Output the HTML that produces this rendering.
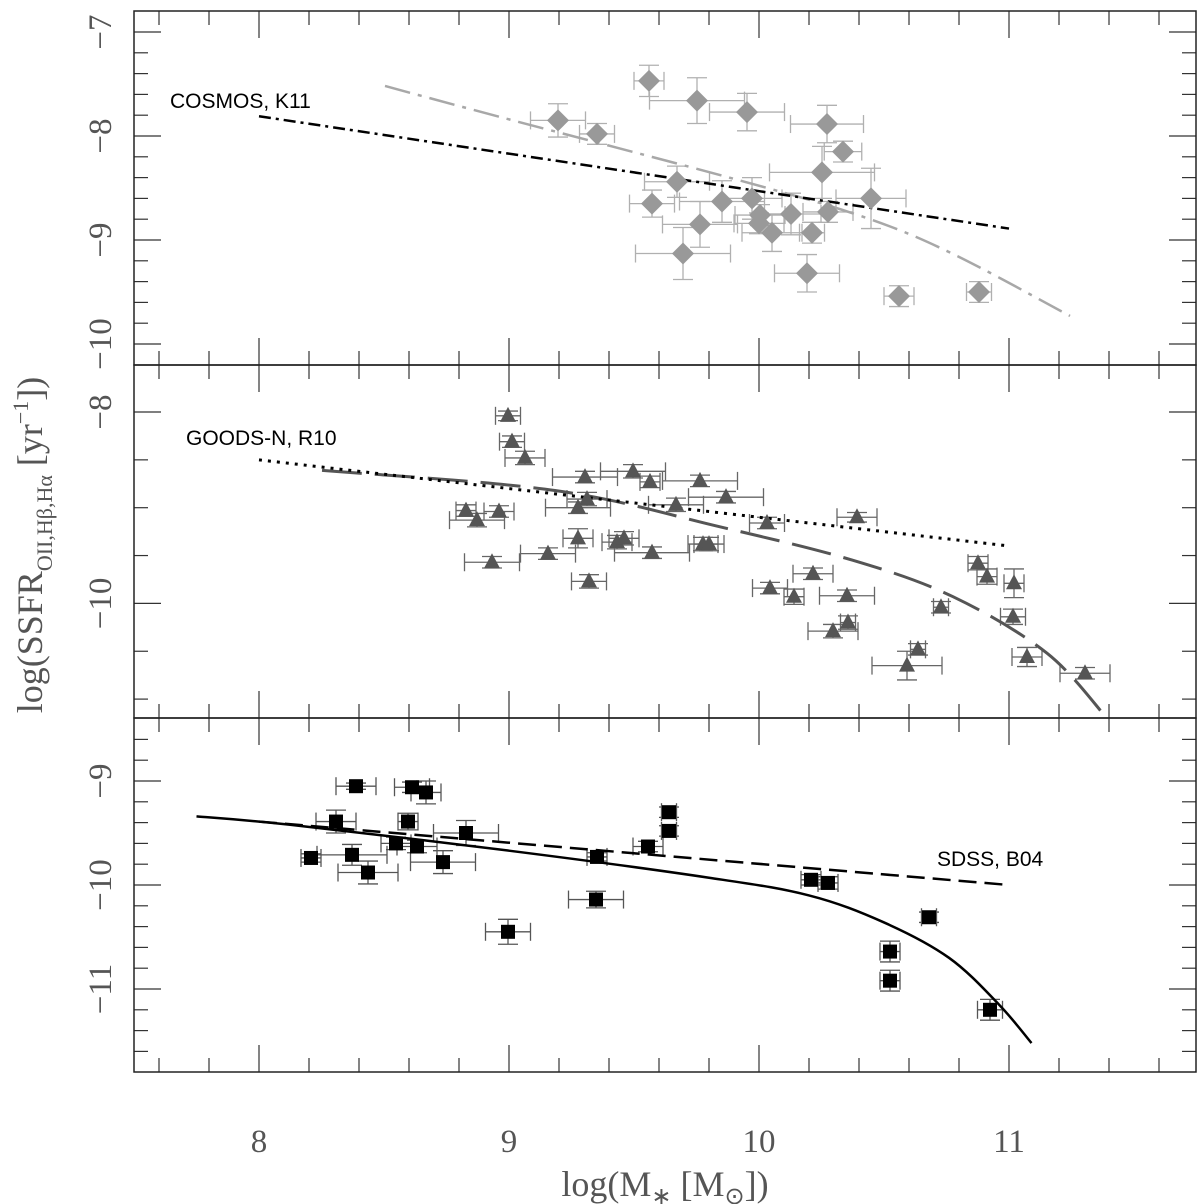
<!DOCTYPE html>
<html><head><meta charset="utf-8"><style>
html,body{margin:0;padding:0;background:#fff;}
svg{display:block;}
.tl{font-family:"Liberation Serif",serif;font-size:33px;fill:#555;}
.lab{font-family:"Liberation Sans",sans-serif;font-size:21px;fill:#000;}
</style></head><body>
<svg id="chart" width="1200" height="1204" viewBox="0 0 1200 1204" xmlns="http://www.w3.org/2000/svg"></svg>
<script>
// ---- data ----
const cosmosX = [9.196,9.352,9.56,9.752,9.952,10.272,10.336,10.252,10.448,9.672,9.572,9.764,9.852,9.972,10.004,10.0,10.052,10.128,10.212,10.276,9.696,10.192,10.56,10.88];
const cosmosY = [-7.85,-7.98,-7.47,-7.66,-7.77,-7.885,-8.15,-8.35,-8.6,-8.44,-8.65,-8.85,-8.63,-8.6,-8.76,-8.84,-8.93,-8.75,-8.93,-8.73,-9.13,-9.32,-9.54,-9.5];
const cosmosXErr = [0.11,0.07,0.06,0.19,0.15,0.146,0.075,0.21,0.14,0.13,0.09,0.15,0.17,0.12,0.1,0.1,0.12,0.12,0.05,0.1,0.19,0.13,0.06,0.05];
const cosmosYErr = [0.16,0.1,0.15,0.22,0.18,0.18,0.1,0.25,0.29,0.15,0.13,0.22,0.2,0.2,0.1,0.1,0.18,0.2,0.1,0.1,0.25,0.18,0.1,0.1];
const cosmosLineX = [8.0,11.0];
const cosmosLineY = [-7.81,-8.89];
const cosmosCurveX = [8.504,8.964,9.872,10.396,10.764,11.244];
const cosmosCurveY = [-7.519,-7.817,-8.394,-8.76,-9.12,-9.73];

const goodsX = [8.996,9.012,9.064,9.304,9.496,9.564,9.764,9.868,9.312,9.276,9.668,10.032,8.828,8.96,8.872,9.276,9.432,9.46,9.156,9.572,9.776,9.8,8.932,9.32,10.392,10.044,10.14,10.216,10.352,10.296,10.356,10.636,10.592,10.728,10.876,10.912,11.02,11.016,11.072,11.304];
const goodsY = [-8.04,-8.31,-8.48,-8.68,-8.62,-8.73,-8.72,-8.89,-8.91,-9.0,-8.97,-9.16,-9.03,-9.04,-9.13,-9.32,-9.36,-9.32,-9.48,-9.47,-9.38,-9.38,-9.57,-9.77,-9.1,-9.84,-9.93,-9.69,-9.92,-10.29,-10.2,-10.48,-10.65,-10.04,-9.58,-9.72,-9.79,-10.14,-10.56,-10.73];
const goodsXErr = [0.05,0.05,0.08,0.13,0.13,0.04,0.15,0.15,0.08,0.13,0.11,0.07,0.04,0.06,0.11,0.06,0.06,0.06,0.11,0.15,0.06,0.06,0.11,0.07,0.08,0.07,0.04,0.08,0.11,0.1,0.03,0.03,0.14,0.03,0.04,0.04,0.04,0.05,0.06,0.1];
const goodsYErr = [0.05,0.06,0.07,0.06,0.07,0.06,0.06,0.06,0.07,0.06,0.07,0.06,0.06,0.06,0.07,0.1,0.07,0.07,0.06,0.06,0.07,0.07,0.06,0.07,0.05,0.06,0.08,0.06,0.06,0.07,0.07,0.06,0.15,0.06,0.07,0.08,0.15,0.08,0.1,0.06];
const goodsLineX = [8.0,11.0];
const goodsLineY = [-8.5,-9.4];
const goodsCurveX = [8.252,9.184,9.844,10.376,10.776,11.152,11.392];
const goodsCurveY = [-8.61,-8.82,-9.2,-9.55,-9.93,-10.52,-11.2];

const sdssX = [8.388,8.612,8.668,8.308,8.596,8.828,8.548,8.632,8.372,8.208,8.736,8.436,9.352,9.348,8.996,9.556,9.64,9.64,10.208,10.276,10.68,10.524,10.524,10.924];
const sdssY = [-9.05,-9.06,-9.11,-9.39,-9.39,-9.5,-9.6,-9.63,-9.71,-9.74,-9.78,-9.88,-9.73,-10.14,-10.45,-9.63,-9.3,-9.48,-9.95,-9.98,-10.31,-10.64,-10.92,-11.2];
const sdssXErr = [0.08,0.07,0.06,0.08,0.04,0.13,0.06,0.08,0.14,0.04,0.13,0.12,0.04,0.11,0.09,0.06,0.03,0.03,0.04,0.04,0.03,0.04,0.04,0.05];
const sdssYErr = [0.03,0.05,0.11,0.11,0.08,0.12,0.06,0.06,0.1,0.04,0.11,0.11,0.04,0.08,0.12,0.05,0.05,0.05,0.05,0.06,0.05,0.1,0.1,0.1];
const sdssLineX = [8.0,11.0];
const sdssLineY = [-9.39,-10.0];
const sdssCurveX = [7.75,8.12,9.0,9.8,10.2,10.5,10.76,10.96,11.09];
const sdssCurveY = [-9.34,-9.42,-9.67,-9.93,-10.1,-10.36,-10.7,-11.15,-11.52];

const xTicks = [8,9,10,11];
const xTickLabels = ["8","9","10","11"];

// ---- layout ----
const NS="http://www.w3.org/2000/svg";
const svg=document.getElementById('chart');
const L=134,R=1196;
function X(v){return 259+(v-8)*250;}
const panels=[
 {name:'cosmos',top:11,bot:365,ref:-7,refPx:32,scale:104,major:[-7,-8,-9,-10],labels:["\u22127","\u22128","\u22129","\u221210"],minorStep:0.2,min:-10.2,max:-6.8},
 {name:'goods',top:365,bot:718,ref:-8,refPx:412,scale:95.7,major:[-8,-10],labels:["\u22128","\u221210"],minorStep:0.5,min:-11.2,max:-7.5},
 {name:'sdss',top:718,bot:1072,ref:-9,refPx:781,scale:104,major:[-9,-10,-11],labels:["\u22129","\u221210","\u221211"],minorStep:0.2,min:-11.8,max:-8.4}
];
panels.forEach(p=>{p.Y=v=>p.refPx+(p.ref-v)*p.scale;});
function mk(tag,attrs,parent){const e=document.createElementNS(NS,tag);for(const k in attrs)e.setAttribute(k,attrs[k]);(parent||svg).appendChild(e);return e;}

panels.forEach(p=>{
  const g=mk('g',{});
  
  
  for(let v=7.6;v<11.75;v+=0.2){
    const vv=Math.round(v*10)/10;
    const maj=Math.abs(vv-Math.round(vv))<1e-6;
    const len=maj?27:14;
    mk('line',{x1:X(vv),x2:X(vv),y1:p.top,y2:p.top+len,stroke:'#333','stroke-width':1.2},g);
    mk('line',{x1:X(vv),x2:X(vv),y1:p.bot,y2:p.bot-len,stroke:'#333','stroke-width':1.2},g);
  }
  const start=Math.ceil(p.min/p.minorStep)*p.minorStep;
  for(let v=start;v<=p.max+1e-6;v+=p.minorStep){
    const vv=Math.round(v*10)/10;
    const maj=p.major.some(m=>Math.abs(m-vv)<1e-6);
    const len=maj?27:14;const y=p.Y(vv);
    if(y<=p.top+1||y>=p.bot-1)continue;
    mk('line',{x1:L,x2:L+len,y1:y,y2:y,stroke:'#333','stroke-width':1.2},g);
    mk('line',{x1:R,x2:R-len,y1:y,y2:y,stroke:'#333','stroke-width':1.2},g);
  }
  p.major.forEach((m,i)=>{
    const t=mk('text',{class:'tl',x:0,y:0,'text-anchor':'middle',transform:`translate(111,${p.Y(m)}) rotate(-90)`},g);
    t.textContent=p.labels[i];
    
    
  });
  const fr=mk('rect',{x:L,y:p.top,width:R-L,height:p.bot-p.top,fill:'none',stroke:'#222','stroke-width':1.5},g);
  
  
  p.g=g;
});

function smoothPath(xs,ys,p){
  const P=xs.map((x,i)=>[X(x),p.Y(ys[i])]);
  let d='M'+P[0][0]+','+P[0][1];
  for(let i=0;i<P.length-1;i++){
    const p0=P[Math.max(0,i-1)],p1=P[i],p2=P[i+1],p3=P[Math.min(P.length-1,i+2)];
    const c1=[p1[0]+(p2[0]-p0[0])/6,p1[1]+(p2[1]-p0[1])/6];
    const c2=[p2[0]-(p3[0]-p1[0])/6,p2[1]-(p3[1]-p1[1])/6];
    d+=` C${c1[0]},${c1[1]} ${c2[0]},${c2[1]} ${p2[0]},${p2[1]}`;
  }
  return d;
}
function line(p,xs,ys,style,name){
  const e=mk('path',Object.assign({d:smoothPath(xs,ys,p),fill:'none'},style),p.g);
  
  
}
function errs(p,xs,ys,xe,ye,col,name){
  const g=mk('g',{stroke:col,'stroke-width':1.3,fill:'none'},p.g);
  
  
  xs.forEach((x,i)=>{
    const cx=X(x),cy=p.Y(ys[i]),x1=X(x-xe[i]),x2=X(x+xe[i]),y1=p.Y(ys[i]+ye[i]),y2=p.Y(ys[i]-ye[i]);
    mk('line',{x1:x1,x2:x2,y1:cy,y2:cy},g);
    mk('line',{x1:x1,x2:x1,y1:cy-9,y2:cy+9},g);
    mk('line',{x1:x2,x2:x2,y1:cy-9,y2:cy+9},g);
    mk('line',{x1:cx,x2:cx,y1:y1,y2:y2},g);
    mk('line',{x1:cx-10,x2:cx+10,y1:y1,y2:y1},g);
    mk('line',{x1:cx-10,x2:cx+10,y1:y2,y2:y2},g);
  });
}
const P0=panels[0],P1=panels[1],P2=panels[2];
errs(P0,cosmosX,cosmosY,cosmosXErr,cosmosYErr,'#b0b0b0','cosmos-error-bars');
line(P0,cosmosCurveX,cosmosCurveY,{stroke:'#a8a8a8','stroke-width':2.5,'stroke-dasharray':'26 8 4 8'},'cosmos-model-curve');
line(P0,cosmosLineX,cosmosLineY,{stroke:'#000','stroke-width':2.5,'stroke-dasharray':'12 5 3 5'},'cosmos-k11-line');
cosmosX.forEach((x,i)=>{
  const cx=X(x),cy=P0.Y(cosmosY[i]);
  const e=mk('polygon',{points:`${cx},${cy-11} ${cx+11},${cy} ${cx},${cy+11} ${cx-11},${cy}`,fill:'#999'},P0.g);
  
  
});
errs(P1,goodsX,goodsY,goodsXErr,goodsYErr,'#666','goods-error-bars');
line(P1,goodsCurveX,goodsCurveY,{stroke:'#555','stroke-width':3,'stroke-dasharray':'40 13'},'goods-model-curve');
line(P1,goodsLineX,goodsLineY,{stroke:'#000','stroke-width':3,'stroke-dasharray':'3 6'},'goods-r10-line');
goodsX.forEach((x,i)=>{
  const cx=X(x),cy=P1.Y(goodsY[i]);
  const e=mk('polygon',{points:`${cx},${cy-9} ${cx+8},${cy+6} ${cx-8},${cy+6}`,fill:'#555'},P1.g);
  
  
});
errs(P2,sdssX,sdssY,sdssXErr,sdssYErr,'#555','sdss-error-bars');
line(P2,sdssCurveX,sdssCurveY,{stroke:'#000','stroke-width':2.5},'sdss-model-curve');
line(P2,sdssLineX,sdssLineY,{stroke:'#000','stroke-width':2.5,'stroke-dasharray':'18 8'},'sdss-b04-line');
sdssX.forEach((x,i)=>{
  const cx=X(x),cy=P2.Y(sdssY[i]);
  const e=mk('rect',{x:cx-7,y:cy-7,width:14,height:14,fill:'#000'},P2.g);
  
  
});
xTicks.forEach((v,i)=>{
  const t=mk('text',{class:'tl',x:X(v),y:1152,'text-anchor':'middle'});
  t.textContent=xTickLabels[i];
  
  
});
</script>
<svg style="position:absolute;left:0;top:0" width="1200" height="1204" xmlns="http://www.w3.org/2000/svg">
  <text class="lab" x="170" y="108">COSMOS, K11</text>
  <text class="lab" x="186" y="445">GOODS-N, R10</text>
  <text class="lab" x="937" y="866">SDSS, B04</text>
  <text x="665" y="1196" text-anchor="middle" style="font-family:'Liberation Serif',serif;font-size:36px;fill:#555">log(M<tspan font-size="24" dy="8">∗</tspan><tspan dy="-8"> [M</tspan><tspan font-size="24" dy="8">⊙</tspan><tspan dy="-8">])</tspan></text>
  <text transform="translate(42,545) rotate(-90)" text-anchor="middle" style="font-family:'Liberation Serif',serif;font-size:36px;fill:#555">log(SSFR<tspan font-size="22" dy="10">OII,Hβ,Hα</tspan><tspan dy="-10"> [yr</tspan><tspan font-size="22" dy="-14">−1</tspan><tspan dy="14">])</tspan></text>
</svg>
</body></html>
